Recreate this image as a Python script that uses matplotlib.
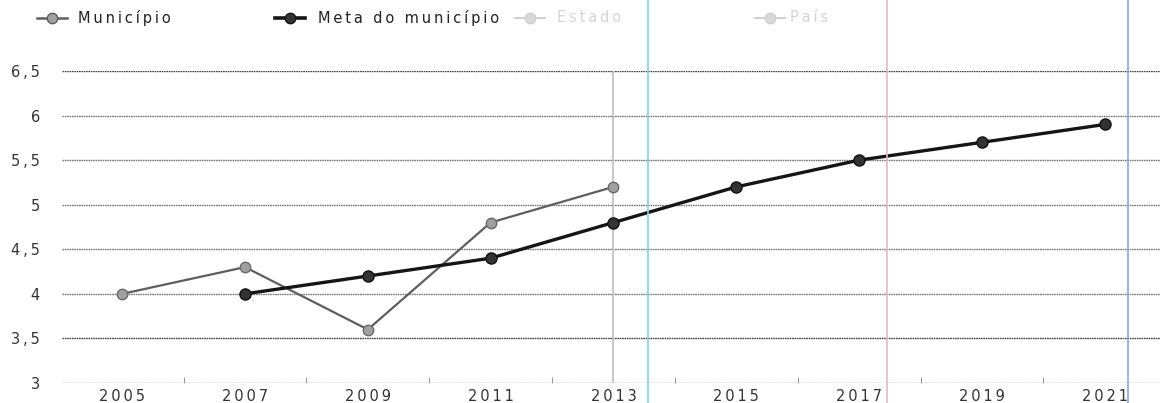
import matplotlib.pyplot as plt
from matplotlib.lines import Line2D

# data
anos_mun = [2005, 2007, 2009, 2011, 2013]
municipio = [4.0, 4.3, 3.6, 4.8, 5.2]
anos_meta = [2007, 2009, 2011, 2013, 2015, 2017, 2019, 2021]
meta = [4.0, 4.2, 4.4, 4.8, 5.2, 5.5, 5.7, 5.9]
yticks = [3, 3.5, 4, 4.5, 5, 5.5, 6, 6.5]
ylabels = ["3", "3,5", "4", "4,5", "5", "5,5", "6", "6,5"]
xticks = [2005, 2007, 2009, 2011, 2013, 2015, 2017, 2019, 2021]
legenda = ["Município", "Meta do município", "Estado", "País"]


def spaced(s):
    # the original font is wide and letter-spaced
    return "\u2009".join(s)


W, H = 1160, 403
fig = plt.figure(figsize=(W / 100, H / 100), dpi=100)
ax = fig.add_axes([62 / W, 1 - 383 / H, 1 - 62 / W, (383 - 71) / H])

ax.set_xlim(2004.02, 2021.9)
ax.set_ylim(3, 6.5)

for v in yticks:
    c = "#444444" if v in (3.5, 6.5) else "#7a7a7a"
    ax.axhline(v, color=c, lw=1.0, ls=(0, (1.2, 0.5)), zorder=1)

# hover crosshair at 2013
ax.plot([2013, 2013], [3, 6.5], color="#bdbdbd", lw=1.2, zorder=1)

ax.plot(anos_mun, municipio, color="#5e5e5e", lw=1.6, marker="o", ms=7.5,
        mfc="#a0a0a0", mec="#6a6a6a", mew=1, zorder=3)
ax.plot(anos_meta, meta, color="#151515", lw=2.4, marker="o", ms=8,
        mfc="#333333", mec="#111111", mew=1, zorder=4)

for s in ax.spines.values():
    s.set_visible(False)
ax.set_yticks(yticks)
ax.set_yticklabels([spaced(t) for t in ylabels], fontsize=10.5, color="#333333")
ax.set_xticks(xticks)
ax.set_xticklabels([spaced(str(x)) for x in xticks], fontsize=10.5, color="#333333")
ax.set_xticks(range(2006, 2021, 2), minor=True)
ax.tick_params(axis="y", length=0, pad=16)
ax.tick_params(axis="x", which="major", length=0, pad=4)
ax.tick_params(axis="x", which="minor", length=4, direction="in", color="#888888")

# coloured vertical artifacts spanning whole image
for xp, c in [(648, "#7fd6e0"), (887, "#e6b8c2"), (1128, "#8fa4d8")]:
    fig.add_artist(Line2D([xp / W, xp / W], [0, 1], color=c, lw=1.2))

# legend row
leg_y = 1 - 18 / H
items = [
    (37, 78, legenda[0], "#5e5e5e", "#a0a0a0", "#222222", 1.8),
    (275, 318, legenda[1], "#151515", "#333333", "#222222", 2.6),
    (515, 557, legenda[2], "#cfcfcf", "#d8d8d8", "#d4d4d4", 1.4),
    (755, 790, legenda[3], "#cfcfcf", "#d8d8d8", "#d4d4d4", 1.4),
]
for x0, xt, txt, lc, fc, tc, lw in items:
    fig.add_artist(Line2D([x0 / W, (x0 + 30) / W], [leg_y, leg_y], color=lc, lw=lw))
    fig.add_artist(Line2D([(x0 + 15) / W], [leg_y], color=lc, marker="o", ms=7.5,
                          mfc=fc, mec=lc, lw=0))
    fig.text(xt / W, leg_y, spaced(txt), fontsize=10.5, color=tc, va="center", ha="left")

fig.savefig("out.png", dpi=100)
